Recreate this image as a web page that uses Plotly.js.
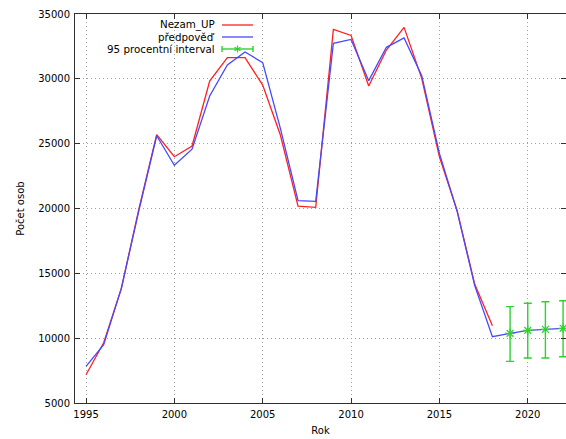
<!DOCTYPE html>
<html>
<head>
<meta charset="utf-8">
<script src="https://cdn.plot.ly/plotly-3.0.1.min.js"></script>
<style>html,body{margin:0;padding:0;background:#fff}#chart{width:566px;height:439px}</style>
</head>
<body>
<div id="chart"></div>
<script>
// ---- data ----
const years = [1995,1996,1997,1998,1999,2000,2001,2002,2003,2004,2005,2006,2007,2008,2009,2010,2011,2012,2013,2014,2015,2016,2017,2018];
const nezamUP = [7180,9650,13840,20000,25700,23990,24820,29830,31630,31630,29520,25670,20190,20090,33810,33350,29450,32220,33970,30040,23990,19850,14150,10960];
const predYears = [1995,1996,1997,1998,1999,2000,2001,2002,2003,2004,2005,2006,2007,2008,2009,2010,2011,2012,2013,2014,2015,2016,2017,2018,2019,2020,2021,2022];
const predpoved = [7830,9500,13840,19900,25610,23330,24570,28680,31070,32070,31250,26180,20600,20550,32740,33040,29860,32430,33150,30240,24250,19800,14050,10110,10370,10600,10680,10760];
const ciYears = [2019,2020,2021,2022];
const ciLow = [8210,8470,8470,8570];
const ciHigh = [12430,12690,12810,12890];
const xTicks = [1995,2000,2005,2010,2015,2020];
const yTicks = [5000,10000,15000,20000,25000,30000,35000];
const seriesNames = ['Nezam_UP','předpověď','95 procentní interval'];

// ---- styling ----
const RED = '#ff2020', BLUE = '#4848ff', GREEN = '#30d030';
const FONT = 'DejaVu Sans, Verdana, sans-serif';
const ciCenter = ciYears.map(y => predpoved[predYears.indexOf(y)]);

const traces = [
  {x: years, y: nezamUP, mode: 'lines', name: seriesNames[0], line: {color: RED, width: 1.3}, showlegend: false},
  {x: predYears, y: predpoved, mode: 'lines', name: seriesNames[1], line: {color: BLUE, width: 1.3}, showlegend: false},
  {x: ciYears, y: ciCenter, mode: 'markers', name: seriesNames[2], showlegend: false,
   marker: {symbol: 'asterisk-open', size: 8, color: GREEN, line: {color: GREEN, width: 1.2}},
   error_y: {type: 'data', symmetric: false,
             array: ciHigh.map((h, i) => h - ciCenter[i]),
             arrayminus: ciLow.map((l, i) => ciCenter[i] - l),
             color: GREEN, thickness: 1.4, width: 4}, cliponaxis: false}
];

// custom gnuplot-style legend (text right aligned, sample on right)
const L = 75, W = 491, B = 403, H = 389;
const px = v => (v - L) / W, py = v => (B - v) / H;
const rows = [25, 37, 49];
const textRight = 217, s0 = 222, s1 = 253;
const annotations = seriesNames.map((n, i) => ({
  xref: 'paper', yref: 'paper', x: px(textRight), y: py(rows[i]), xanchor: 'right', yanchor: 'middle',
  text: n, showarrow: false, font: {family: FONT, size: 10.3, color: '#000'}
}));
const shapes = [
  {type: 'line', xref: 'paper', yref: 'paper', x0: px(s0), x1: px(s1), y0: py(rows[0]), y1: py(rows[0]), line: {color: RED, width: 1.3}},
  {type: 'line', xref: 'paper', yref: 'paper', x0: px(s0), x1: px(s1), y0: py(rows[1]), y1: py(rows[1]), line: {color: BLUE, width: 1.3}},
  {type: 'line', xref: 'paper', yref: 'paper', x0: px(s0), x1: px(s1), y0: py(rows[2]), y1: py(rows[2]), line: {color: GREEN, width: 1.4}},
  {type: 'line', xref: 'paper', yref: 'paper', x0: px(s0), x1: px(s0), y0: py(rows[2] - 3), y1: py(rows[2] + 3), line: {color: GREEN, width: 1.4}},
  {type: 'line', xref: 'paper', yref: 'paper', x0: px(s1), x1: px(s1), y0: py(rows[2] - 3), y1: py(rows[2] + 3), line: {color: GREEN, width: 1.4}}
];
const cx = (s0 + s1) / 2, cy = rows[2];
[[0, 3.5], [3, 1.8], [3, -1.8]].forEach(([dx, dy]) => {
  shapes.push({type: 'line', xref: 'paper', yref: 'paper', x0: px(cx - dx), x1: px(cx + dx), y0: py(cy - dy), y1: py(cy + dy), line: {color: GREEN, width: 1.2}});
});

const axisCommon = {
  showline: true, linecolor: '#303030', linewidth: 1, mirror: 'ticks',
  ticks: 'inside', ticklen: 5, tickcolor: '#303030', tickwidth: 1,
  showgrid: true, gridcolor: '#a0a0a0', griddash: '1px,3px', gridwidth: 1,
  zeroline: false, tickfont: {family: FONT, size: 10, color: '#000'}
};

const layout = {
  width: 566, height: 439,
  margin: {l: 75, r: 0, t: 14, b: 36},
  paper_bgcolor: '#fff', plot_bgcolor: '#fff',
  showlegend: false,
  xaxis: Object.assign({}, axisCommon, {
    range: [1994.377, 2022.165], tickvals: xTicks, ticktext: xTicks.map(String),
    ticklabelstandoff: 2,
    title: {text: 'Rok', font: {family: FONT, size: 10, color: '#000'}, standoff: 7}
  }),
  yaxis: Object.assign({}, axisCommon, {
    range: [5000, 35000], tickvals: yTicks, ticktext: yTicks.map(String),
    ticklabelstandoff: 2,
    title: {text: 'Počet osob', font: {family: FONT, size: 10, color: '#000'}, standoff: 11}
  }),
  annotations: annotations,
  shapes: shapes
};

Plotly.newPlot('chart', traces, layout, {displayModeBar: false, staticPlot: true});
</script>
</body>
</html>
